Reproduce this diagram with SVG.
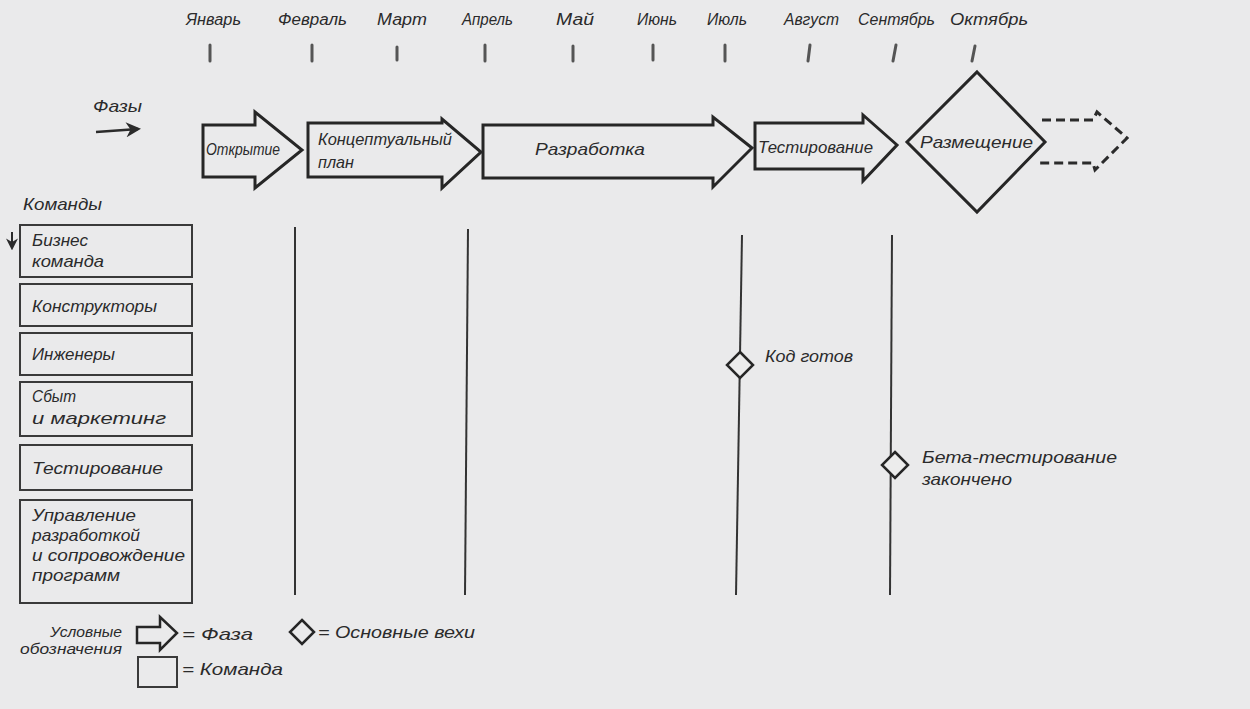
<svg xmlns="http://www.w3.org/2000/svg" width="1250" height="709" viewBox="0 0 1250 709">
  <defs>
    <style>
      .hand { font-family: "Liberation Sans", Arial, sans-serif; font-style: italic; fill: #2b2b2b; font-size: 17px; }
      .month { font-size: 16px; }
      .small { font-size: 14px; }
      .phase { fill: none; stroke: #262626; stroke-width: 3; stroke-linejoin: miter; }
      .team { fill: none; stroke: #3a3a3a; stroke-width: 2; }
      .lane { fill: none; stroke: #333; stroke-width: 2; }
      .tick { stroke: #555; stroke-width: 3; stroke-linecap: round; }
      .mile { fill: #ececec; stroke: #262626; stroke-width: 2.5; }
    </style>
    <marker id="arr" viewBox="0 0 10 10" refX="8" refY="5" markerWidth="6" markerHeight="6" orient="auto">
      <path d="M0,0 L10,5 L0,10 L3,5 Z" fill="#2b2b2b"/>
    </marker>
  </defs>

  <rect width="1250" height="709" fill="#eaeaeb"/>

  <!-- timeline: months and tick marks -->
  <g id="months">
    <text class="hand month" x="186" y="25" textLength="55" lengthAdjust="spacingAndGlyphs">Январь</text>
    <text class="hand month" x="278" y="25" textLength="69" lengthAdjust="spacingAndGlyphs">Февраль</text>
    <text class="hand month" x="377" y="25" textLength="50" lengthAdjust="spacingAndGlyphs">Март</text>
    <text class="hand month" x="462" y="25" textLength="51" lengthAdjust="spacingAndGlyphs">Апрель</text>
    <text class="hand month" x="556" y="25" textLength="38" lengthAdjust="spacingAndGlyphs">Май</text>
    <text class="hand month" x="637" y="25" textLength="40" lengthAdjust="spacingAndGlyphs">Июнь</text>
    <text class="hand month" x="707" y="25" textLength="40" lengthAdjust="spacingAndGlyphs">Июль</text>
    <text class="hand month" x="784" y="25" textLength="55" lengthAdjust="spacingAndGlyphs">Август</text>
    <text class="hand month" x="858" y="25" textLength="77" lengthAdjust="spacingAndGlyphs">Сентябрь</text>
    <text class="hand month" x="950" y="25" textLength="78" lengthAdjust="spacingAndGlyphs">Октябрь</text>
    <line class="tick" x1="210" y1="45" x2="210" y2="61"/>
    <line class="tick" x1="312" y1="45" x2="312" y2="61"/>
    <line class="tick" x1="397" y1="47" x2="397" y2="60"/>
    <line class="tick" x1="485" y1="45" x2="485" y2="61"/>
    <line class="tick" x1="573" y1="46" x2="573" y2="61"/>
    <line class="tick" x1="653" y1="45" x2="653" y2="60"/>
    <line class="tick" x1="725" y1="45" x2="725" y2="61"/>
    <line class="tick" x1="810" y1="45" x2="808" y2="61"/>
    <line class="tick" x1="896" y1="45" x2="893" y2="61"/>
    <line class="tick" x1="975" y1="46" x2="972" y2="61"/>
  </g>

  <!-- phases -->
  <g id="phases-label">
    <text class="hand" x="93" y="112" textLength="49" lengthAdjust="spacingAndGlyphs">Фазы</text>
    <path d="M96,132 L138,129" stroke="#2b2b2b" stroke-width="2.5" fill="none" marker-end="url(#arr)"/>
  </g>
  <g id="phase-open">
    <path class="phase" d="M203,125 L255,125 L255,112 L302,150 L255,188 L255,177 L203,177 Z"/>
    <text class="hand" x="206" y="155" textLength="74" lengthAdjust="spacingAndGlyphs">Открытие</text>
  </g>
  <g id="phase-concept">
    <path class="phase" d="M308,123 L442,123 L442,119 L481,152 L442,188 L442,177 L308,177 Z"/>
    <text class="hand" x="318" y="145" textLength="134" lengthAdjust="spacingAndGlyphs">Концептуальный</text>
    <text class="hand" x="318" y="168" textLength="36" lengthAdjust="spacingAndGlyphs">план</text>
  </g>
  <g id="phase-dev">
    <path class="phase" d="M483,125 L713,125 L713,117 L752,148 L713,187 L713,178 L483,178 Z"/>
    <text class="hand" x="535" y="155" textLength="110" lengthAdjust="spacingAndGlyphs">Разработка</text>
  </g>
  <g id="phase-test">
    <path class="phase" d="M755,123 L863,123 L863,115 L897,145 L863,181 L863,169 L755,169 Z"/>
    <text class="hand" x="758" y="153" textLength="115" lengthAdjust="spacingAndGlyphs">Тестирование</text>
  </g>
  <g id="phase-deploy">
    <path class="phase" d="M977,72 L1045,142 L977,212 L907,142 Z"/>
    <text class="hand" x="920" y="148" textLength="113" lengthAdjust="spacingAndGlyphs">Размещение</text>
  </g>
  <g id="phase-next">
    <path d="M1042,120 L1093,120 L1097,112 L1127,138 L1095,170 L1093,163 L1038,163" fill="none" stroke="#2b2b2b" stroke-width="3" stroke-dasharray="9 5"/>
  </g>

  <!-- teams -->
  <g id="teams-label">
    <text class="hand" x="23" y="210" textLength="79" lengthAdjust="spacingAndGlyphs">Команды</text>
    <path d="M12,232 L12,248" stroke="#2b2b2b" stroke-width="2" fill="none" marker-end="url(#arr)"/>
  </g>
  <g id="team-business">
    <rect class="team" x="20" y="225" width="172" height="52"/>
    <text class="hand" x="32" y="246" textLength="56" lengthAdjust="spacingAndGlyphs">Бизнес</text>
    <text class="hand" x="32" y="267" textLength="72" lengthAdjust="spacingAndGlyphs">команда</text>
  </g>
  <g id="team-designers">
    <rect class="team" x="20" y="284" width="172" height="42"/>
    <text class="hand" x="32" y="312" textLength="125" lengthAdjust="spacingAndGlyphs">Конструкторы</text>
  </g>
  <g id="team-engineers">
    <rect class="team" x="20" y="333" width="172" height="42"/>
    <text class="hand" x="32" y="360" textLength="83" lengthAdjust="spacingAndGlyphs">Инженеры</text>
  </g>
  <g id="team-sales">
    <rect class="team" x="20" y="382" width="172" height="54"/>
    <text class="hand" x="32" y="402" textLength="44" lengthAdjust="spacingAndGlyphs">Сбыт</text>
    <text class="hand" x="32" y="424" textLength="134" lengthAdjust="spacingAndGlyphs">и маркетинг</text>
  </g>
  <g id="team-testing">
    <rect class="team" x="20" y="445" width="172" height="45"/>
    <text class="hand" x="32" y="474" textLength="131" lengthAdjust="spacingAndGlyphs">Тестирование</text>
  </g>
  <g id="team-software">
    <rect class="team" x="20" y="500" width="172" height="103"/>
    <text class="hand" x="32" y="521" textLength="104" lengthAdjust="spacingAndGlyphs">Управление</text>
    <text class="hand" x="32" y="541" textLength="108" lengthAdjust="spacingAndGlyphs">разработкой</text>
    <text class="hand" x="32" y="561" textLength="153" lengthAdjust="spacingAndGlyphs">и сопровождение</text>
    <text class="hand" x="32" y="581" textLength="88" lengthAdjust="spacingAndGlyphs">программ</text>
  </g>

  <!-- phase boundary lines -->
  <g id="connectors">
    <line class="lane" x1="295" y1="227" x2="295" y2="595"/>
    <line class="lane" x1="468" y1="229" x2="465" y2="595"/>
    <line class="lane" x1="742" y1="235" x2="736" y2="595"/>
    <line class="lane" x1="892" y1="235" x2="890" y2="595"/>
  </g>

  <!-- milestones -->
  <g id="milestone-code">
    <path class="mile" d="M740,352 L753,365 L740,378 L727,365 Z"/>
    <text class="hand" x="765" y="362" textLength="88" lengthAdjust="spacingAndGlyphs">Код готов</text>
  </g>
  <g id="milestone-beta">
    <path class="mile" d="M895,452 L908,465 L895,478 L882,465 Z"/>
    <text class="hand" x="922" y="463" textLength="195" lengthAdjust="spacingAndGlyphs">Бета-тестирование</text>
    <text class="hand" x="922" y="485" textLength="90" lengthAdjust="spacingAndGlyphs">закончено</text>
  </g>

  <!-- legend -->
  <g id="legend">
    <text class="hand small" x="50" y="637" textLength="72" lengthAdjust="spacingAndGlyphs">Условные</text>
    <text class="hand small" x="20" y="654" textLength="102" lengthAdjust="spacingAndGlyphs">обозначения</text>
    <path d="M137,627 L160,627 L160,617 L177,633 L160,650 L160,643 L137,643 Z" fill="none" stroke="#262626" stroke-width="2.5"/>
    <text class="hand" x="182" y="640" textLength="71" lengthAdjust="spacingAndGlyphs">= Фаза</text>
    <path d="M302,620 L314,632 L302,644 L290,632 Z" fill="none" stroke="#262626" stroke-width="2.5"/>
    <text class="hand" x="318" y="638" textLength="157" lengthAdjust="spacingAndGlyphs">= Основные вехи</text>
    <rect x="138" y="657" width="39" height="30" fill="none" stroke="#3a3a3a" stroke-width="2"/>
    <text class="hand" x="182" y="675" textLength="101" lengthAdjust="spacingAndGlyphs">= Команда</text>
  </g>
</svg>
